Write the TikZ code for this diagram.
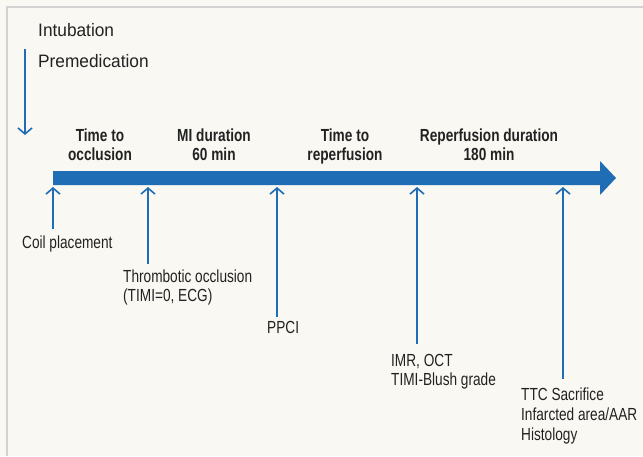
\documentclass[tikz,border=0pt]{standalone}
\usepackage{fontspec}
\setmainfont[FakeStretch=0.78]{Liberation Sans}
\newfontfamily\widefont[FakeStretch=0.96]{Liberation Sans}
\usetikzlibrary{arrows.meta}
\definecolor{bgc}{HTML}{F9F8F3}
\definecolor{frame}{HTML}{D2D2D2}
\definecolor{tlblue}{HTML}{1F6DB5}
\definecolor{txt}{HTML}{222222}
\tikzset{
  lbl/.style={anchor=base west,inner sep=0pt,text=txt,font=\fontsize{17.5}{20}\selectfont},
  prelbl/.style={anchor=base west,inner sep=0pt,text=txt,font=\widefont\fontsize{18}{20}\selectfont},
  phase/.style={anchor=base,inner sep=0pt,text=txt,font=\fontsize{17.5}{20}\selectfont\bfseries},
  marker/.style={draw=tlblue,line width=1.6pt,-{Straight Barb[length=6pt,width=14pt,line width=1.6pt]}}
}
\begin{document}
\begin{tikzpicture}[x=1pt,y=-1pt]
\fill[bgc] (0,0) rectangle (643,456);
\useasboundingbox (0,0) rectangle (643,456);
\draw[frame,line width=2pt] (7,456) -- (7,7) -- (643,7);
% pre-start
\node[prelbl] (intub) at (38,36) {Intubation};
\node[prelbl] (premed) at (38,67) {Premedication};
\coordinate (ds) at (25,49);
\coordinate (de) at (25,135);
\draw[marker] (ds) -- (de);
% main arrow
\fill[tlblue] (53,171) -- (600,171) -- (600,161) -- (616,178) -- (600,195) -- (600,185) -- (53,185) -- cycle;
% phase labels
\node[phase] (p1a) at (100,141) {Time to};
\node[phase] (p1b) at (100,160) {occlusion};
\node[phase] (p2a) at (214,141) {MI duration};
\node[phase] (p2b) at (214,160) {60 min};
\node[phase] (p3a) at (345,141) {Time to};
\node[phase] (p3b) at (345,160) {reperfusion};
\node[phase] (p4a) at (489,141) {Reperfusion duration};
\node[phase] (p4b) at (489,160) {180 min};
% markers
\coordinate (t1) at (53,187);
\coordinate (t2) at (148,187);
\coordinate (t3) at (277,187);
\coordinate (t4) at (417,187);
\coordinate (t5) at (563,187);
\coordinate (b1) at (53,229);
\coordinate (b2) at (148,264);
\coordinate (b3) at (277,317);
\coordinate (b4) at (417,344);
\coordinate (b5) at (563,379);
\draw[marker] (b1) -- (t1);
\draw[marker] (b2) -- (t2);
\draw[marker] (b3) -- (t3);
\draw[marker] (b4) -- (t4);
\draw[marker] (b5) -- (t5);
\node[lbl] (l1) at (22,248) {Coil placement};
\node[lbl] (l2a) at (123,282) {Thrombotic occlusion};
\node[lbl] (l2b) at (123,301) {(TIMI=0, ECG)};
\node[lbl] (l3) at (267,333) {PPCI};
\node[lbl] (l4a) at (391,366) {IMR, OCT};
\node[lbl] (l4b) at (391,385) {TIMI-Blush grade};
\node[lbl] (l5a) at (521,400) {TTC Sacrifice};
\node[lbl] (l5b) at (521,420) {Infarcted area/AAR};
\node[lbl] (l5c) at (521,440) {Histology};
\end{tikzpicture}
\end{document}
